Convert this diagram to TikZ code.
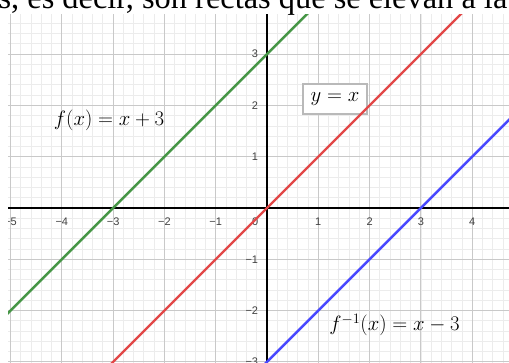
\documentclass[tikz,border=0pt]{standalone}
\usepackage[no-math]{fontspec}
\setmainfont{Liberation Serif}
\newfontfamily\ticksfont{Liberation Sans}
\definecolor{ggreen}{RGB}{70,150,70}
\definecolor{gred}{RGB}{226,72,72}
\definecolor{gblue}{RGB}{72,72,255}
\tikzset{
  minorgrid/.style={draw=gray!15, line width=0.8pt},
  majorgrid/.style={draw=gray!42, line width=1pt},
  axisline/.style={draw=black, line width=1.1pt},
  graphline/.style={line width=2.4pt},
  ticklab/.style={font=\ticksfont\fontsize{11}{11}\selectfont, text=black!75, inner sep=0pt},
  eqlab/.style={font=\fontsize{21.5}{21.5}\selectfont, inner sep=0pt},
}
\begin{document}
\begin{tikzpicture}[x=1pt,y=1pt]
\useasboundingbox (0,0) rectangle (509,363);
\fill[white] (0,0) rectangle (509,363);
\begin{scope}
\clip (8,0) rectangle (509,349);
\begin{scope}[shift={(267,155)}, x=51.3pt, y=51.3pt]
  \draw[minorgrid] (-6,-4) grid[step=0.2] (5,4);
  \draw[majorgrid] (-6,-4) grid[step=1] (5,4);
  \draw[axisline] (-6,0) -- (5,0);
  \draw[axisline] (0,-4) -- (0,4);
  \foreach \i/\t in {-5/−5,-4/−4,-3/−3,-2/−2,-1/−1,1/1,2/2,3/3,4/4}
    \node[ticklab] at (\i,-0.27) {\t};
  \node[ticklab] at (-0.23,-0.27) {0};
  \foreach \j/\t in {-3/−3,-2/−2,-1/−1,1/1,2/2,3/3}
    \node[ticklab, anchor=east] at (-0.17,\j) {\t};
  % y = x box
  \node[draw=gray!55, line width=1.5pt, fill=white, minimum width=64pt, minimum height=30pt, inner sep=0pt] (boxyx) at ({(335-267)/51.3},{(264-155)/51.3}) {};
  \coordinate (ga) at (-7,-4); \coordinate (gb) at (1,4);
  \coordinate (ra) at (-4,-4); \coordinate (rb) at (5,5);
  \coordinate (ba) at (-1,-4); \coordinate (bb) at (8,5);
  \draw[graphline, ggreen] (ga) -- (gb);
  \draw[graphline, gred] (ra) -- (rb);
  \draw[graphline, gblue] (ba) -- (bb);
\end{scope}
\end{scope}
\node[eqlab] (lf) at (109,243) {$f(x)=x+3$};
\node[eqlab] (lyx) at (335,264) {$y=x$};
\node[eqlab] (lfi) at (394.5,38) {$f^{-1}(x)=x-3$};
\fill[white] (0,349) rectangle (509,363);
\begin{scope}
\clip (0,0) rectangle (509,363);
\node[anchor=base west, inner sep=0pt, font=\fontsize{32.4}{32}\selectfont] (top) at (-16,354) {es, es decir, son rectas que se elevan a la};
\end{scope}
\end{tikzpicture}
\end{document}
